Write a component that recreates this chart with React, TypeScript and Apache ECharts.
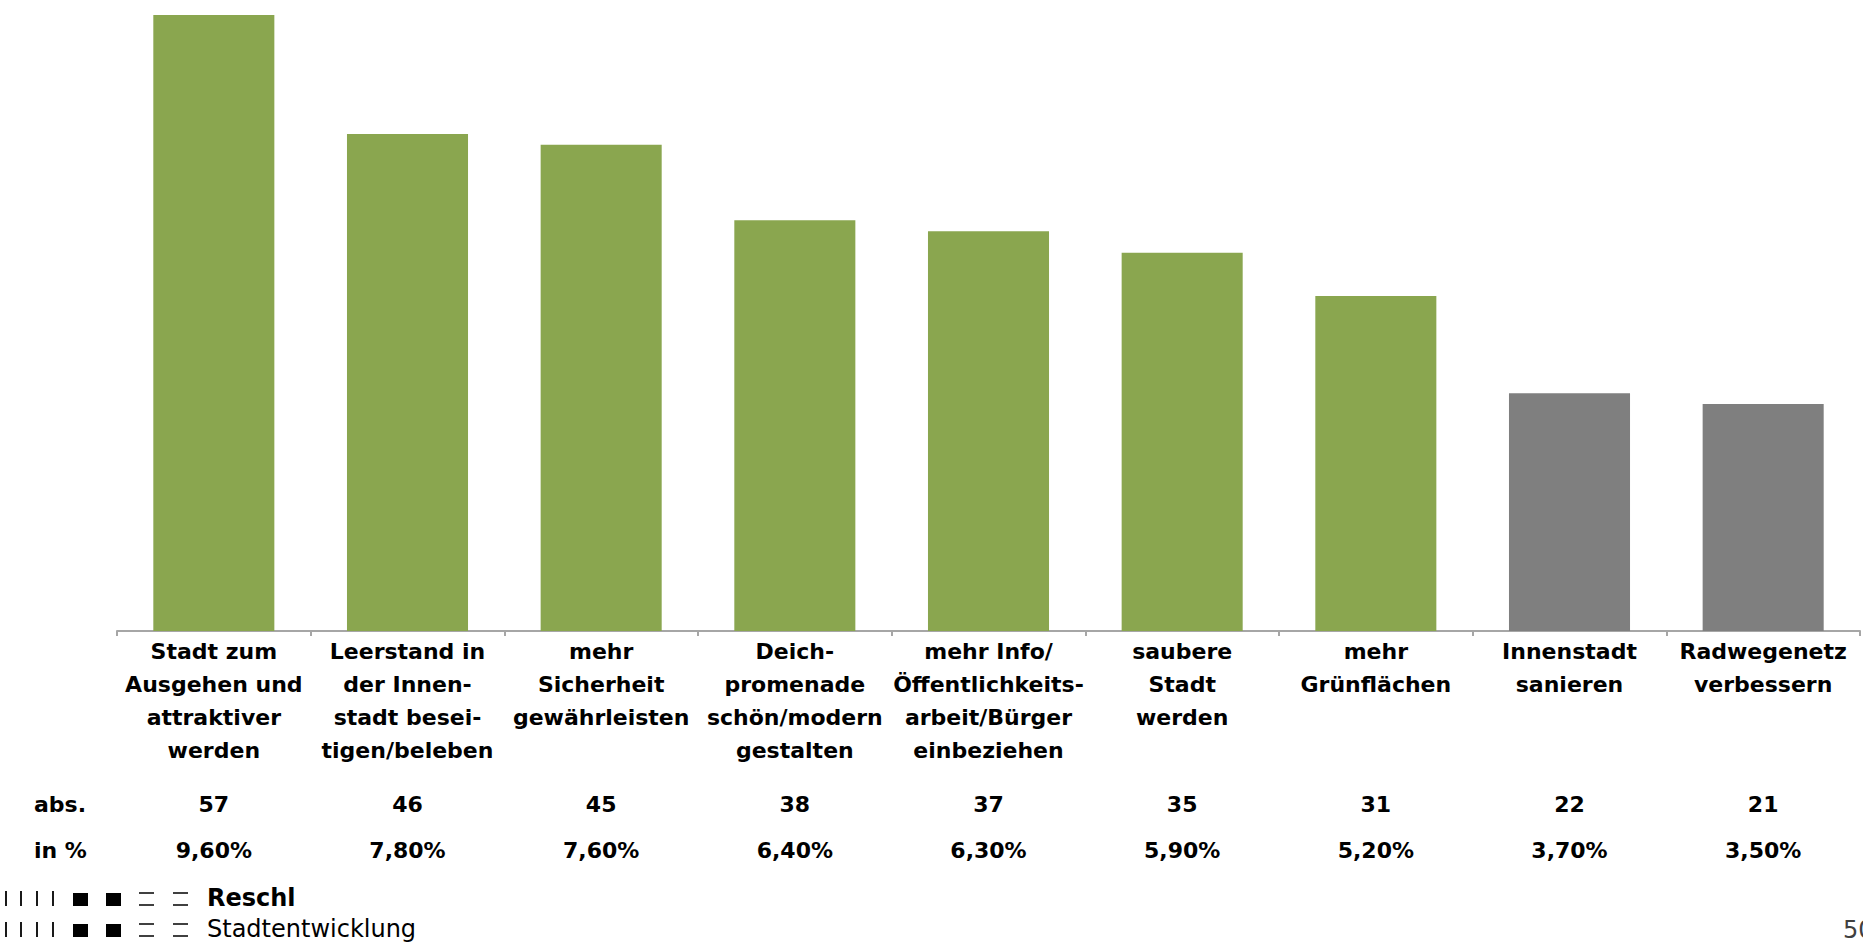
import React, { useEffect, useRef } from "react";
import * as echarts from "echarts";

const categories = [
  "Stadt zum\nAusgehen und\nattraktiver\nwerden",
  "Leerstand in\nder Innen-\nstadt besei-\ntigen/beleben",
  "mehr\nSicherheit\ngewährleisten",
  "Deich-\npromenade\nschön/modern\ngestalten",
  "mehr Info/\nÖffentlichkeits-\narbeit/Bürger\neinbeziehen",
  "saubere\nStadt\nwerden",
  "mehr\nGrünflächen",
  "Innenstadt\nsanieren",
  "Radwegenetz\nverbessern",
];
const absValues = [57, 46, 45, 38, 37, 35, 31, 22, 21];
const pctLabels = ["9,60%", "7,80%", "7,60%", "6,40%", "6,30%", "5,90%", "5,20%", "3,70%", "3,50%"];
const highlighted = [true, true, true, true, true, true, true, false, false];
const rowLabels = ["abs.", "in %"];
const pageNumber = "50";

const GREEN = "#8AA64F";
const GREY = "#7F7F7F";
const FONT = "DejaVu Sans";

function logoRow(y: number, text: string, bold: boolean) {
  const els: any[] = [];
  [6, 21, 37, 53].forEach((x) =>
    els.push({ type: "line", shape: { x1: x, y1: y - 7, x2: x, y2: y + 8 }, style: { stroke: "#000", lineWidth: 1.8 } })
  );
  [73, 106].forEach((x) =>
    els.push({ type: "rect", shape: { x, y: y - 5, width: 15, height: 13 }, style: { fill: "#000" } })
  );
  [139, 173].forEach((x) => {
    els.push({ type: "line", shape: { x1: x, y1: y - 5, x2: x + 15, y2: y - 5 }, style: { stroke: "#000", lineWidth: 1.5 } });
    els.push({ type: "line", shape: { x1: x, y1: y + 7, x2: x + 15, y2: y + 7 }, style: { stroke: "#000", lineWidth: 1.5 } });
  });
  els.push({
    type: "text",
    x: 207,
    y: y,
    style: { text, fontFamily: FONT, fontSize: 24, fontWeight: bold ? "bold" : "normal", fill: "#000", verticalAlign: "middle", align: "left" },
  });
  return els;
}

export default function App() {
  const ref = useRef<HTMLDivElement>(null);
  useEffect(() => {
    if (!ref.current) return;
    const chart = echarts.init(ref.current, undefined, { renderer: "svg" });
    const labelStyle = { fontFamily: FONT, fontSize: 22, fontWeight: "bold", color: "#000" };
    const rowTextStyle = { fontFamily: FONT, fontSize: 22, fontWeight: "bold", fill: "#000", verticalAlign: "middle" };
    chart.setOption({
      animation: false,
      grid: { left: 117, right: 3, top: 15, bottom: 313 },
      xAxis: [
        {
          type: "category",
          data: categories,
          axisLine: { show: true, lineStyle: { color: "#A6A6A6", width: 2 } },
          axisTick: { show: true, length: 5, alignWithLabel: false, lineStyle: { color: "#A6A6A6", width: 2 } },
          axisLabel: { interval: 0, margin: 4, lineHeight: 33, ...labelStyle },
        },
        {
          type: "category",
          position: "bottom",
          offset: 158,
          data: absValues.map(String),
          axisLine: { show: false },
          axisTick: { show: false },
          axisLabel: { interval: 0, margin: 0, lineHeight: 30, ...labelStyle },
        },
        {
          type: "category",
          position: "bottom",
          offset: 204,
          data: pctLabels,
          axisLine: { show: false },
          axisTick: { show: false },
          axisLabel: { interval: 0, margin: 0, lineHeight: 30, ...labelStyle },
        },
      ],
      yAxis: { type: "value", min: 0, max: 57, show: false, splitLine: { show: false } },
      series: [
        {
          type: "bar",
          xAxisIndex: 0,
          barWidth: "62.5%",
          data: absValues.map((v, i) => ({ value: v, itemStyle: { color: highlighted[i] ? GREEN : GREY } })),
        },
      ],
      graphic: [
        { type: "text", x: 34, y: 804, style: { text: rowLabels[0], ...rowTextStyle } },
        { type: "text", x: 34, y: 850, style: { text: rowLabels[1], ...rowTextStyle } },
        { type: "text", x: 1843, y: 930, style: { text: pageNumber, fontFamily: FONT, fontSize: 24, fill: "#404040", verticalAlign: "middle" } },
        ...logoRow(898, "Reschl", true),
        ...logoRow(929, "Stadtentwicklung", false),
      ],
    });
    return () => chart.dispose();
  }, []);
  return <div ref={ref} style={{ position: "fixed", left: 0, top: 0, width: 1863, height: 944, background: "#fff" }} />;
}
